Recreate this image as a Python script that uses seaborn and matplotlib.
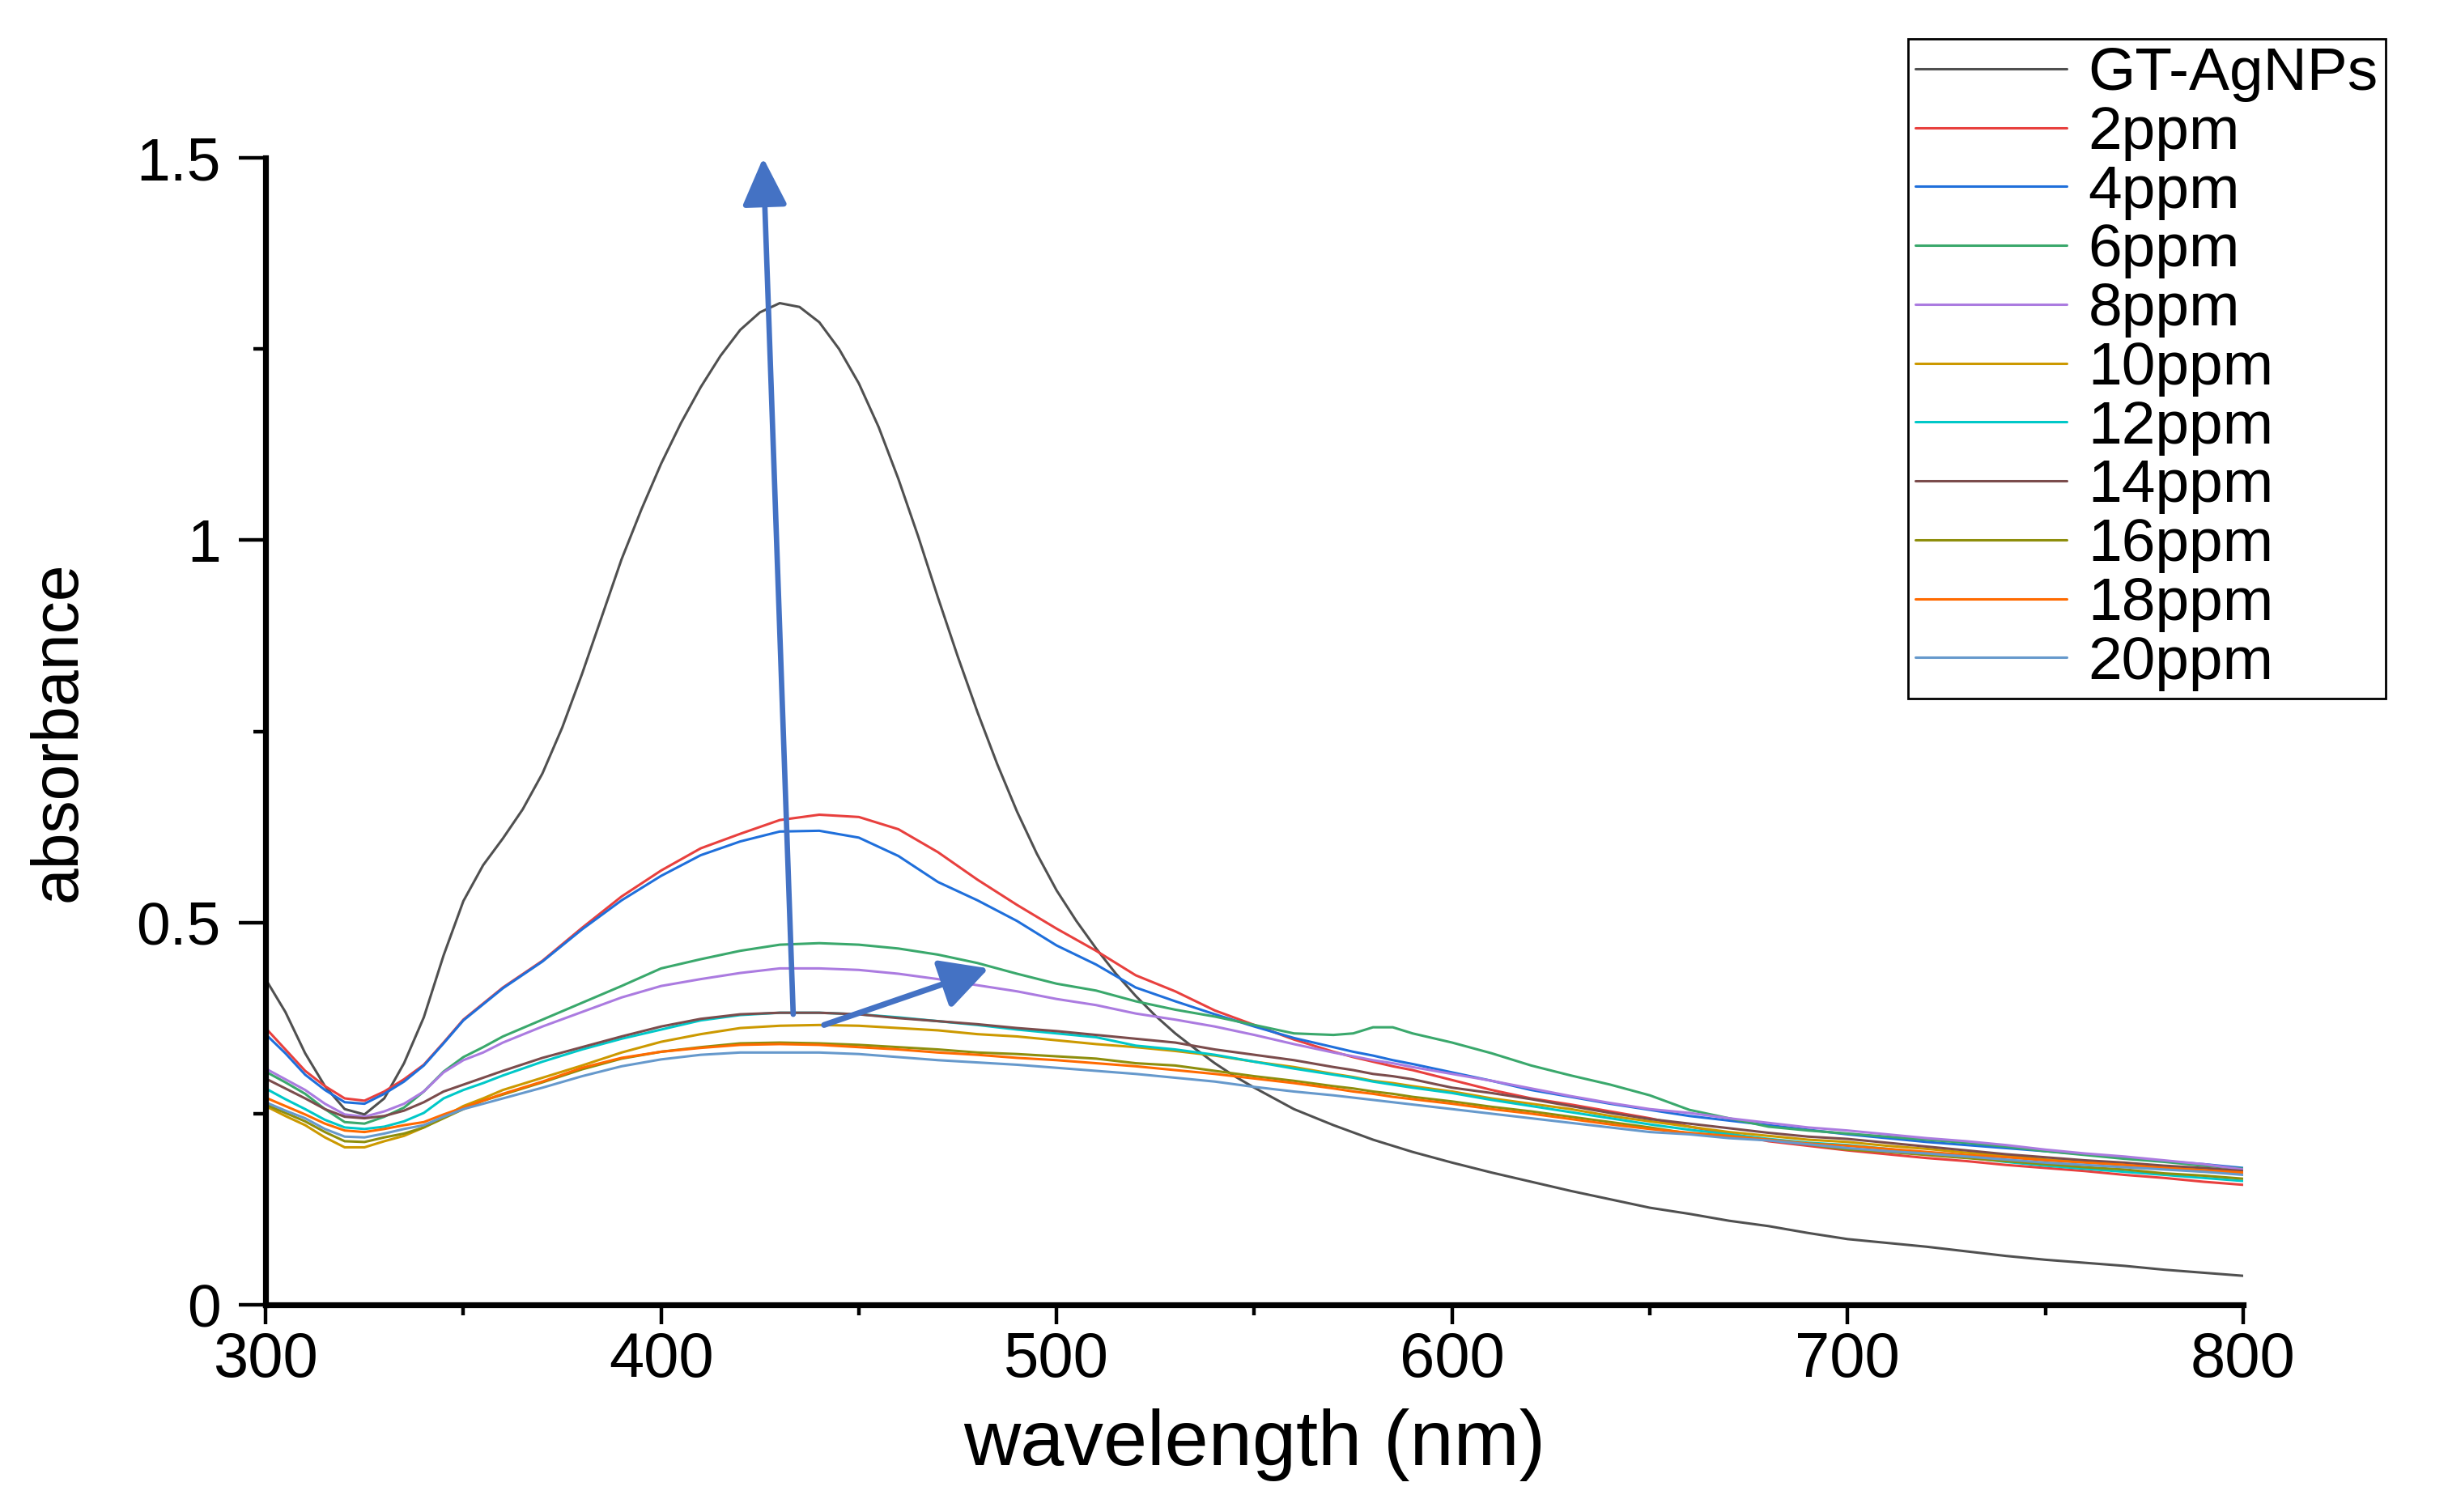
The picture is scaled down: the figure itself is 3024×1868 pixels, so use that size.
import matplotlib
matplotlib.use("Agg")
import matplotlib.pyplot as plt
from matplotlib.ticker import MultipleLocator
import pandas as pd
import seaborn as sns

# wavelength grid (nm) the diluted spectra were read on
wavelength = [300, 305, 310, 315, 320, 325, 330, 335, 340, 345, 350, 355, 360,
              370, 380, 390, 400, 410, 420, 430, 440, 450, 460, 470, 480, 490,
              500, 510, 520, 530, 540, 550, 560, 570,
              575, 580, 585, 590,
              600, 610, 620, 630, 640, 650, 660, 670, 680, 690, 700, 710, 720,
              730, 740, 750, 760, 770, 780, 790, 800]

# the GT-AgNPs peak is sharp, so it was read on a finer grid
wavelength_gt = [300, 305, 310, 315, 320, 325, 330, 335, 340, 345, 350, 355, 360,
                 365, 370, 375, 380, 385, 390, 395, 400, 405, 410, 415, 420, 425,
                 430, 435, 440, 445, 450, 455, 460, 465, 470, 475, 480, 485, 490,
                 495, 500, 505, 510, 515, 520, 525, 530, 535, 540, 545, 550, 555,
                 560, 570, 580, 590, 600, 610, 620, 630, 640, 650, 660, 670, 680,
                 690, 700, 710, 720, 730, 740, 750, 760, 770, 780, 790, 800]
gt_agnps = [0.426, 0.383, 0.329, 0.286, 0.256, 0.249, 0.270, 0.316, 0.376, 0.457, 0.528, 0.575, 0.610,
            0.648, 0.695, 0.755, 0.825, 0.900, 0.975, 1.040, 1.100, 1.153, 1.200, 1.241, 1.275, 1.298,
            1.310, 1.305, 1.285, 1.250, 1.205, 1.148, 1.080, 1.005, 0.925, 0.848, 0.775, 0.707, 0.645,
            0.590, 0.542, 0.502, 0.466, 0.433, 0.404, 0.378, 0.355, 0.335, 0.316, 0.299, 0.284, 0.270,
            0.256, 0.235, 0.216, 0.200, 0.186, 0.173, 0.161, 0.149, 0.138, 0.127, 0.119, 0.110, 0.103,
            0.094, 0.086, 0.081, 0.076, 0.070, 0.064, 0.059, 0.055, 0.051, 0.046, 0.042, 0.038]

ppm_2 = [0.362, 0.334, 0.306, 0.286, 0.270, 0.267, 0.279, 0.295, 0.314, 0.343, 0.373, 0.394, 0.415,
         0.450, 0.493, 0.534, 0.568, 0.597, 0.616, 0.634, 0.641, 0.638, 0.622, 0.592, 0.556, 0.523,
         0.492, 0.463, 0.431, 0.410, 0.385, 0.366, 0.347, 0.331,
         0.324, 0.318, 0.312, 0.307,
         0.294, 0.281, 0.270, 0.262, 0.253, 0.244, 0.233, 0.224, 0.214, 0.208, 0.202, 0.197, 0.192,
         0.188, 0.183, 0.179, 0.175, 0.170, 0.166, 0.161, 0.157]
ppm_4 = [0.354, 0.329, 0.301, 0.281, 0.265, 0.263, 0.276, 0.292, 0.313, 0.342, 0.372, 0.393, 0.414,
         0.449, 0.491, 0.529, 0.561, 0.588, 0.606, 0.619, 0.620, 0.611, 0.587, 0.553, 0.529, 0.502,
         0.470, 0.445, 0.415, 0.397, 0.380, 0.364, 0.349, 0.337,
         0.331, 0.326, 0.320, 0.315,
         0.304, 0.293, 0.281, 0.272, 0.263, 0.255, 0.247, 0.241, 0.235, 0.229, 0.223, 0.218, 0.213,
         0.209, 0.205, 0.201, 0.197, 0.192, 0.188, 0.184, 0.179]
ppm_6 = [0.305, 0.291, 0.276, 0.256, 0.239, 0.237, 0.246, 0.258, 0.279, 0.305, 0.324, 0.337, 0.351,
         0.373, 0.395, 0.417, 0.440, 0.452, 0.463, 0.471, 0.473, 0.471, 0.466, 0.458, 0.447, 0.433,
         0.420, 0.411, 0.397, 0.386, 0.377, 0.366, 0.355, 0.353,
         0.355, 0.363, 0.363, 0.355,
         0.343, 0.329, 0.313, 0.300, 0.288, 0.274, 0.255, 0.244, 0.233, 0.228, 0.224, 0.220, 0.216,
         0.212, 0.207, 0.201, 0.196, 0.191, 0.187, 0.182, 0.178]
ppm_8 = [0.309, 0.295, 0.281, 0.263, 0.249, 0.246, 0.253, 0.263, 0.279, 0.304, 0.320, 0.330, 0.343,
         0.364, 0.383, 0.402, 0.417, 0.426, 0.434, 0.440, 0.440, 0.438, 0.433, 0.426, 0.418, 0.410,
         0.400, 0.392, 0.381, 0.373, 0.364, 0.353, 0.341, 0.330,
         0.325, 0.320, 0.316, 0.311,
         0.302, 0.293, 0.283, 0.273, 0.264, 0.256, 0.251, 0.244, 0.238, 0.232, 0.228, 0.223, 0.218,
         0.214, 0.209, 0.203, 0.198, 0.194, 0.189, 0.184, 0.177]
ppm_10 = [0.260, 0.247, 0.235, 0.219, 0.206, 0.206, 0.214, 0.221, 0.232, 0.246, 0.260, 0.270, 0.281,
          0.297, 0.313, 0.330, 0.344, 0.354, 0.362, 0.365, 0.366, 0.365, 0.362, 0.359, 0.354, 0.351,
          0.346, 0.341, 0.337, 0.332, 0.326, 0.318, 0.311, 0.302,
          0.298, 0.293, 0.290, 0.286,
          0.279, 0.270, 0.263, 0.256, 0.247, 0.240, 0.233, 0.226, 0.221, 0.216, 0.213, 0.208, 0.204,
          0.199, 0.195, 0.190, 0.187, 0.183, 0.180, 0.176, 0.172]
ppm_12 = [0.283, 0.269, 0.256, 0.242, 0.232, 0.230, 0.233, 0.240, 0.251, 0.270, 0.281, 0.290, 0.300,
          0.318, 0.334, 0.348, 0.360, 0.372, 0.379, 0.382, 0.382, 0.380, 0.376, 0.371, 0.366, 0.360,
          0.355, 0.350, 0.339, 0.334, 0.327, 0.318, 0.309, 0.301,
          0.297, 0.292, 0.288, 0.284,
          0.277, 0.268, 0.260, 0.252, 0.244, 0.236, 0.229, 0.223, 0.217, 0.212, 0.209, 0.204, 0.198,
          0.193, 0.187, 0.182, 0.178, 0.174, 0.170, 0.166, 0.162]
ppm_14 = [0.296, 0.283, 0.270, 0.256, 0.246, 0.244, 0.247, 0.254, 0.265, 0.279, 0.288, 0.297, 0.306,
          0.323, 0.337, 0.351, 0.364, 0.374, 0.380, 0.382, 0.382, 0.380, 0.375, 0.371, 0.367, 0.362,
          0.358, 0.353, 0.348, 0.343, 0.334, 0.327, 0.320, 0.311,
          0.307, 0.302, 0.299, 0.295,
          0.284, 0.277, 0.269, 0.260, 0.251, 0.243, 0.237, 0.231, 0.225, 0.220, 0.217, 0.212, 0.207,
          0.202, 0.197, 0.193, 0.189, 0.186, 0.182, 0.179, 0.175]
ppm_16 = [0.262, 0.251, 0.240, 0.226, 0.214, 0.213, 0.219, 0.224, 0.232, 0.244, 0.256, 0.267, 0.275,
          0.291, 0.308, 0.322, 0.331, 0.337, 0.342, 0.343, 0.342, 0.340, 0.337, 0.334, 0.330, 0.328,
          0.325, 0.322, 0.316, 0.313, 0.306, 0.299, 0.293, 0.286,
          0.283, 0.279, 0.276, 0.272,
          0.266, 0.259, 0.253, 0.246, 0.239, 0.232, 0.224, 0.220, 0.216, 0.210, 0.203, 0.200, 0.196,
          0.192, 0.188, 0.184, 0.180, 0.177, 0.172, 0.169, 0.165]
ppm_18 = [0.271, 0.260, 0.249, 0.237, 0.228, 0.226, 0.230, 0.235, 0.239, 0.249, 0.258, 0.267, 0.276,
          0.292, 0.310, 0.323, 0.331, 0.336, 0.340, 0.341, 0.340, 0.337, 0.334, 0.330, 0.327, 0.323,
          0.320, 0.316, 0.312, 0.307, 0.302, 0.296, 0.290, 0.283,
          0.279, 0.276, 0.272, 0.269,
          0.263, 0.256, 0.250, 0.243, 0.236, 0.230, 0.225, 0.221, 0.216, 0.211, 0.208, 0.204, 0.200,
          0.196, 0.193, 0.189, 0.186, 0.183, 0.179, 0.176, 0.173]
ppm_20 = [0.265, 0.254, 0.244, 0.230, 0.220, 0.219, 0.224, 0.230, 0.235, 0.246, 0.256, 0.263, 0.270,
          0.284, 0.299, 0.312, 0.321, 0.327, 0.330, 0.330, 0.330, 0.328, 0.324, 0.320, 0.317, 0.314,
          0.310, 0.306, 0.302, 0.297, 0.292, 0.285, 0.279, 0.274,
          0.271, 0.268, 0.265, 0.262,
          0.256, 0.250, 0.244, 0.238, 0.232, 0.226, 0.223, 0.218, 0.215, 0.210, 0.205, 0.201, 0.198,
          0.194, 0.190, 0.186, 0.183, 0.180, 0.177, 0.174, 0.170]

samples = ["GT-AgNPs", "2ppm", "4ppm", "6ppm", "8ppm", "10ppm",
           "12ppm", "14ppm", "16ppm", "18ppm", "20ppm"]
diluted = [ppm_2, ppm_4, ppm_6, ppm_8, ppm_10, ppm_12, ppm_14, ppm_16, ppm_18, ppm_20]
colors = ["#505050", "#E8403E", "#1F6FDB", "#3AA86C", "#AB7BE0", "#CC9900",
          "#00C8C8", "#7B4C4C", "#8E8E0C", "#FF6A00", "#6699CC"]

# long format for seaborn
frames = [pd.DataFrame({"wavelength": wavelength_gt, "absorbance": gt_agnps, "sample": samples[0]})]
for name, vals in zip(samples[1:], diluted):
    frames.append(pd.DataFrame({"wavelength": wavelength, "absorbance": vals, "sample": name}))
df = pd.concat(frames, ignore_index=True)

sns.set_style("ticks")
plt.rcParams["font.family"] = ["Liberation Sans", "DejaVu Sans"]
plt.rcParams["text.color"] = "black"
plt.rcParams["axes.labelcolor"] = "black"
plt.rcParams["xtick.color"] = "black"
plt.rcParams["ytick.color"] = "black"

fig = plt.figure(figsize=(15.12, 9.34), dpi=200)
ax = fig.add_axes([0.1085, 0.137, 0.8078, 0.7586])

sns.lineplot(data=df, x="wavelength", y="absorbance", hue="sample",
             hue_order=samples, palette=colors, linewidth=1.1,
             estimator=None, sort=False, ax=ax)

ax.set_xlim(300, 800)
ax.set_ylim(0, 1.5)

for side in ["top", "right"]:
    ax.spines[side].set_visible(False)
for side in ["left", "bottom"]:
    ax.spines[side].set_linewidth(2.6)
    ax.spines[side].set_color("black")

ax.set_xticks([300, 400, 500, 600, 700, 800])
ax.xaxis.set_minor_locator(MultipleLocator(50))
ax.set_yticks([0, 0.5, 1, 1.5])
ax.set_yticklabels(["0", "0.5", "1", "1.5"])
ax.yaxis.set_minor_locator(MultipleLocator(0.25))

ax.tick_params(axis="x", which="major", direction="out", length=8.5, width=1.6,
               labelsize=28, pad=3.0, colors="black")
ax.tick_params(axis="x", which="minor", direction="out", length=4.5, width=1.6)
ax.tick_params(axis="y", which="major", direction="out", length=12, width=1.6,
               labelsize=27, pad=8.0, colors="black")
ax.tick_params(axis="y", which="minor", direction="out", length=5.5, width=1.6)

ax.set_xlabel("wavelength (nm)", fontsize=35)
ax.xaxis.set_label_coords(0.5, -0.090)
ax.set_ylabel("absorbance", fontsize=29)
ax.yaxis.set_label_coords(-0.089, 0.5)

# the two blue arrows
arrow_blue = "#4472C4"
ax.annotate("", xy=(425.8, 1.50), xytext=(433.4, 0.38),
            arrowprops=dict(arrowstyle="-|>,head_length=18,head_width=8.5",
                            mutation_scale=1, lw=2.4, color=arrow_blue,
                            shrinkA=0, shrinkB=0))
ax.annotate("", xy=(482.8, 0.440), xytext=(441.2, 0.366),
            arrowprops=dict(arrowstyle="-|>,head_length=18,head_width=9.5",
                            mutation_scale=1, lw=2.6, color=arrow_blue,
                            shrinkA=0, shrinkB=0))

handles, labels = ax.get_legend_handles_labels()
leg = ax.legend(handles, labels, loc="upper left",
                bbox_to_anchor=(0.7794, 0.9743), bbox_transform=fig.transFigure,
                frameon=True, fancybox=False, framealpha=1, edgecolor="black",
                fontsize=27, labelspacing=0.05, handlelength=2.5,
                handletextpad=0.35, borderpad=0.12, borderaxespad=0)
leg.get_frame().set_linewidth(1.0)

fig.savefig("out.png", dpi=200)
